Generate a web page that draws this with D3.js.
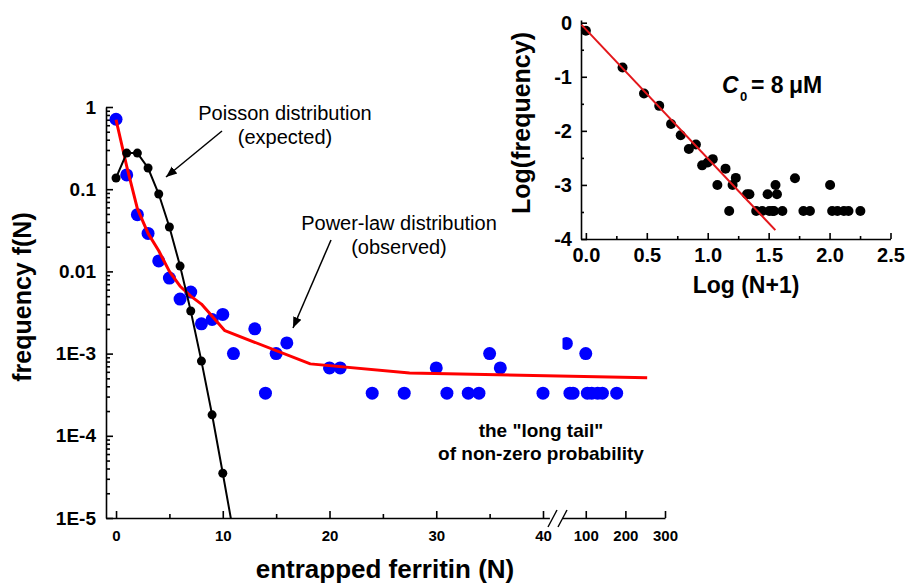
<!DOCTYPE html>
<html>
<head>
<meta charset="utf-8">
<script src="https://cdn.jsdelivr.net/npm/d3@7"></script>
<style>
  body { margin: 0; background: #fff; }
  svg { display: block; }
  text { font-family: "Liberation Sans", Arial, sans-serif; }
</style>
</head>
<body>
<svg id="canvas" width="908" height="585"></svg>
<script>
// ************************************************************************************** //
// Data

// observed frequencies (blue)
var blueN = [0, 1, 2, 3, 4, 5, 6, 7, 8, 9, 10, 11, 13, 14, 15, 16, 20, 21, 24, 27, 30, 31, 33, 34, 35, 36, 40,
             51, 60, 68, 100, 104, 115, 130, 142, 178];
var blueF = [0.71, 0.149, 0.049, 0.029, 0.0134, 0.0083, 0.0046, 0.0056, 0.0023, 0.0026, 0.003, 0.001, 0.002,
             0.00033, 0.001, 0.00135, 0.00067, 0.00067, 0.00033, 0.00033, 0.00067, 0.00033, 0.00033, 0.00033,
             0.001, 0.00067, 0.00033, 0.00133, 0.00033, 0.00033, 0.001, 0.00033, 0.00033, 0.00033, 0.00033, 0.00033];

// Poisson expectation (black)
var poissonN = [0, 1, 2, 3, 4, 5, 6, 7, 8, 9, 10, 11];
var poissonF = [0.137, 0.275, 0.275, 0.181, 0.0874, 0.0347, 0.0116, 0.0033, 0.00081, 0.00018, 0.000035, 0.0000066];

// power-law fit (red)
var fitN = [0, 1, 2, 3, 4, 5, 6, 7, 8, 10.2, 18.2, 27.5, 255];
var fitF = [0.70, 0.19, 0.058, 0.029, 0.0178, 0.010, 0.0066, 0.005, 0.004, 0.0019, 0.00075, 0.00058, 0.00051];

var yTicks = [1, 0.1, 0.01, 1e-3, 1e-4, 1e-5];
var yTickLabels = ['1', '0.1', '0.01', '1E-3', '1E-4', '1E-5'];
var xTicksLow = [0, 10, 20, 30, 40];
var xMinorLow = [5, 15, 25, 35];
var xTicksHigh = [100, 200, 300];

// inset: log-log fit line
var insetFitX = [-0.035, 1.555];
var insetFitY = [-0.04, -3.835];
var insetXTicks = [0, 0.5, 1.0, 1.5, 2.0, 2.5];
var insetXMinor = [0.25, 0.75, 1.25, 1.75, 2.25];
var insetYTicks = [0, -1, -2, -3, -4];
var insetYMinor = [-0.5, -1.5, -2.5, -3.5];

var FONT = '"Liberation Sans", Arial, sans-serif';
var svg = d3.select('#canvas');
var defs = svg.append('defs');

function styleAxis(g, size) {
  g.attr('font-family', FONT).attr('font-size', size).attr('font-weight', 'bold');
  g.selectAll('path, line').attr('stroke', '#000').attr('stroke-width', 1.6);
  g.selectAll('text').attr('fill', '#000');
}

// ************************************************************************************** //
// Main chart

var main = {};
main.y = d3.scaleLog().domain([1e-5, 1]).range([518, 107]);
main.xLow = d3.scaleLinear().domain([-0.94, 40.6]).range([106, 549.4]);
main.xHigh = d3.scaleLinear().domain([40, 300]).range([562, 665]);
main.x = function(n) { return n <= 40 ? main.xLow(n) : main.xHigh(n); };

defs.append('clipPath').attr('id', 'clip_plot')
  .append('rect').attr('x', 106).attr('y', 95).attr('width', 570).attr('height', 423);
defs.append('clipPath').attr('id', 'clip_high')
  .append('rect').attr('x', 562.5).attr('y', 95).attr('width', 120).attr('height', 423);

// x axis (broken)
main.xAxisLow = svg.append('g').attr('transform', 'translate(0,518)')
  .call(d3.axisBottom(main.xLow).tickValues(xTicksLow).tickSize(-7).tickSizeOuter(0).tickPadding(12));
styleAxis(main.xAxisLow, 15);
main.xMinor = svg.append('g').attr('transform', 'translate(0,518)')
  .call(d3.axisBottom(main.xLow).tickValues(xMinorLow).tickSize(-4).tickFormat(''));
main.xMinor.select('.domain').remove();
styleAxis(main.xMinor, 15);

main.xAxisHigh = svg.append('g').attr('transform', 'translate(0,518)')
  .call(d3.axisBottom(main.xHigh).tickValues(xTicksHigh).tickSize(-7).tickSizeOuter(0).tickPadding(12));
styleAxis(main.xAxisHigh, 15);

// break marks
[[548, 557], [558, 567]].forEach(function(b) {
  svg.append('line').attr('x1', b[0]).attr('y1', 527).attr('x2', b[1]).attr('y2', 510)
    .attr('stroke', '#000').attr('stroke-width', 1.4);
});

// y axis
main.yAxis = svg.append('g').attr('transform', 'translate(106,0)')
  .call(d3.axisLeft(main.y).tickValues(yTicks).tickFormat(function(d, i) { return yTickLabels[i]; })
    .tickSize(-7).tickSizeOuter(0).tickPadding(10));
styleAxis(main.yAxis, 19);
var yMinor = [];
for (var k = -5; k < 0; k++)
  for (var m = 2; m < 10; m++) yMinor.push(m * Math.pow(10, k));
main.yMinorAxis = svg.append('g').attr('transform', 'translate(106,0)')
  .call(d3.axisLeft(main.y).tickValues(yMinor).tickSize(-4).tickFormat(''));
main.yMinorAxis.select('.domain').remove();
styleAxis(main.yMinorAxis, 19);

// observed points
var blue = blueN.map(function(n, i) { return { n: n, f: blueF[i] }; });
svg.append('g').selectAll('circle').data(blue.filter(function(d) { return d.n <= 40; })).enter()
  .append('circle')
  .attr('cx', function(d) { return main.x(d.n); })
  .attr('cy', function(d) { return main.y(d.f); })
  .attr('r', 6.5).attr('fill', '#0000ff');
svg.append('g').attr('clip-path', 'url(#clip_high)')
  .selectAll('circle').data(blue.filter(function(d) { return d.n > 40; })).enter()
  .append('circle')
  .attr('cx', function(d) { return main.x(d.n); })
  .attr('cy', function(d) { return main.y(d.f); })
  .attr('r', 6.5).attr('fill', '#0000ff');

// power-law fit
var lineGen = d3.line().x(function(d) { return main.x(d.n); }).y(function(d) { return main.y(d.f); });
svg.append('path')
  .attr('d', lineGen(fitN.map(function(n, i) { return { n: n, f: fitF[i] }; })))
  .attr('fill', 'none').attr('stroke', '#ff0000').attr('stroke-width', 3).attr('stroke-linejoin', 'round');

// Poisson
var poisson = poissonN.map(function(n, i) { return { n: n, f: poissonF[i] }; });
svg.append('path').attr('clip-path', 'url(#clip_plot)')
  .attr('d', lineGen(poisson))
  .attr('fill', 'none').attr('stroke', '#000').attr('stroke-width', 2);
svg.append('g').selectAll('circle').data(poisson.filter(function(d) { return d.f >= 1e-5; })).enter()
  .append('circle')
  .attr('cx', function(d) { return main.x(d.n); })
  .attr('cy', function(d) { return main.y(d.f); })
  .attr('r', 4.5).attr('fill', '#000');

// axis titles
svg.append('text').attr('x', 385).attr('y', 578).attr('text-anchor', 'middle')
  .attr('font-size', 26).attr('font-weight', 'bold').text('entrapped ferritin (N)');
svg.append('text').attr('transform', 'translate(31,297) rotate(-90)').attr('text-anchor', 'middle')
  .attr('font-size', 25).attr('font-weight', 'bold').text('frequency f(N)');

// annotations
defs.append('marker').attr('id', 'arrow').attr('viewBox', '0 0 10 10').attr('refX', 10).attr('refY', 5)
  .attr('markerWidth', 11).attr('markerHeight', 11).attr('markerUnits', 'userSpaceOnUse').attr('orient', 'auto')
  .append('path').attr('d', 'M0,1 L10,5 L0,9 Z').attr('fill', '#000');

function note(lines, cx, y0) {
  var t = svg.append('text').attr('text-anchor', 'middle').attr('font-size', 20);
  lines.forEach(function(s, i) { t.append('tspan').attr('x', cx).attr('y', y0 + i * 23.5).text(s); });
}
note(['Poisson distribution', '(expected)'], 285, 120);
note(['Power-law distribution', '(observed)'], 399, 230);
svg.append('line').attr('x1', 222).attr('y1', 131).attr('x2', 166).attr('y2', 177)
  .attr('stroke', '#000').attr('stroke-width', 1.5).attr('marker-end', 'url(#arrow)');
svg.append('line').attr('x1', 331).attr('y1', 240).attr('x2', 293).attr('y2', 328)
  .attr('stroke', '#000').attr('stroke-width', 1.5).attr('marker-end', 'url(#arrow)');

var tail = svg.append('text').attr('text-anchor', 'middle').attr('font-size', 19).attr('font-weight', 'bold');
tail.append('tspan').attr('x', 541).attr('y', 437).text('the "long tail"');
tail.append('tspan').attr('x', 541).attr('y', 460).text('of non-zero probability');

// ************************************************************************************** //
// Inset (log-log)

var inset = {};
inset.x = d3.scaleLinear().domain([-0.04, 2.5]).range([581, 890.5]);
inset.y = d3.scaleLinear().domain([-4, 0.05]).range([239, 20]);

inset.xAxis = svg.append('g').attr('transform', 'translate(0,239)')
  .call(d3.axisBottom(inset.x).tickValues(insetXTicks).tickFormat(d3.format('.1f'))
    .tickSize(-6).tickSizeOuter(0).tickPadding(9));
styleAxis(inset.xAxis, 20);
inset.xMinor = svg.append('g').attr('transform', 'translate(0,239)')
  .call(d3.axisBottom(inset.x).tickValues(insetXMinor).tickSize(-3).tickFormat(''));
inset.xMinor.select('.domain').remove();
styleAxis(inset.xMinor, 20);

inset.yAxis = svg.append('g').attr('transform', 'translate(581,0)')
  .call(d3.axisLeft(inset.y).tickValues(insetYTicks).tickFormat(function(d) { return String(d); })
    .tickSize(-6).tickSizeOuter(0).tickPadding(9));
styleAxis(inset.yAxis, 20);
inset.yMinor = svg.append('g').attr('transform', 'translate(581,0)')
  .call(d3.axisLeft(inset.y).tickValues(insetYMinor).tickSize(-3).tickFormat(''));
inset.yMinor.select('.domain').remove();
styleAxis(inset.yMinor, 20);

svg.append('g').selectAll('circle').data(blue).enter()
  .append('circle')
  .attr('cx', function(d) { return inset.x(Math.log10(d.n + 1)); })
  .attr('cy', function(d) { return inset.y(Math.log10(d.f)); })
  .attr('r', 5).attr('fill', '#000');

svg.append('path')
  .attr('d', d3.line()(insetFitX.map(function(x, i) { return [inset.x(x), inset.y(insetFitY[i])]; })))
  .attr('fill', 'none').attr('stroke', '#e3171b').attr('stroke-width', 2);

svg.append('text').attr('x', 746).attr('y', 293).attr('text-anchor', 'middle')
  .attr('font-size', 23).attr('font-weight', 'bold').text('Log (N+1)');
svg.append('text').attr('transform', 'translate(530,123) rotate(-90)').attr('text-anchor', 'middle')
  .attr('font-size', 25).attr('font-weight', 'bold').text('Log(frequency)');

var c0 = svg.append('text').attr('font-size', 23).attr('font-weight', 'bold').attr('y', 93);
c0.append('tspan').attr('x', 722).attr('font-style', 'italic').text('C');
c0.append('tspan').attr('x', 740).attr('y', 101).attr('font-size', 13).text('0');
c0.append('tspan').attr('x', 751).attr('y', 93).text('= 8');
c0.append('tspan').attr('x', 789).attr('y', 93).text('\u03bcM');
</script>
</body>
</html>
